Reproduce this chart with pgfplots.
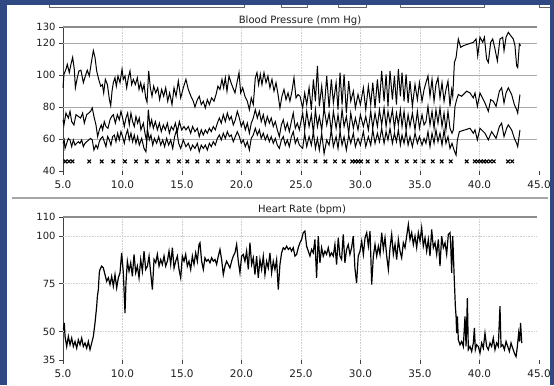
\documentclass[border=0pt]{standalone}
\usepackage{fontspec}
\setmainfont{DejaVu Sans}
\usepackage{pgfplots}
\pgfplotsset{compat=1.18}
\definecolor{bgblue}{RGB}{48,73,130}
\definecolor{gridgray}{RGB}{170,170,170}
\definecolor{faintgray}{RGB}{205,205,205}
\definecolor{txt}{RGB}{30,30,30}
\pgfplotsset{panel/.style={
  scale only axis, width=476bp, xmin=5, xmax=45, clip=false,
  axis x line*=bottom, axis y line*=left,
  x axis line style={draw=none},
  y axis line style={black!75, line width=0.8bp},
  tick align=outside, major tick length=4bp,
  tick style={black!75, line width=0.6bp},
  xtick={5,10,...,45},
  /pgf/number format/assume math mode=true,
  xticklabel style={font=\fontsize{10.5}{12}\selectfont, text=txt, yshift=-2bp,
    /pgf/number format/fixed, /pgf/number format/fixed zerofill, /pgf/number format/precision=1},
  yticklabel style={font=\fontsize{10}{12}\selectfont, text=txt},
}}
\begin{document}
\begin{tikzpicture}[x=1bp,y=1bp]
\useasboundingbox (0,0) rectangle (554,385);
\fill[bgblue] (0,0) rectangle (554,385);
\fill[white] (7,0) rectangle (550,380);
\begin{scope}[draw=black!60, line width=0.7bp]
\draw (49,380) -- (49,377.2) -- (244,377.2) -- (244,380);
\draw (281,380) -- (281,377.2) -- (307,377.2) -- (307,380);
\draw (338,380) -- (338,377.2) -- (366,377.2) -- (366,380);
\draw (400,380) -- (400,377.2) -- (484,377.2) -- (484,380);
\draw (539,380) -- (539,377.2) -- (550,377.2);
\end{scope}
\draw[black!35, line width=1.6bp] (12,187) -- (548,187);
\node[font=\fontsize{10.1}{11}\selectfont, text=txt] at (300,364) {Blood Pressure (mm Hg)};
\node[font=\fontsize{10.1}{11}\selectfont, text=txt] at (302,175) {Heart Rate (bpm)};

% ---------------- Blood pressure ----------------
\begin{axis}[panel, at={(63bp,214bp)}, anchor=south west, height=144bp,
  ymin=40, ymax=130, ytick={40,60,80,100,120,130}]
\foreach \g in {10,15,20,25,30,35,40}{\edef\tmp{\noexpand\draw[faintgray, densely dotted, line width=0.6bp] (axis cs:\g,40) -- (axis cs:\g,130);}\tmp}
\foreach \g in {60,80,100,120}{\edef\tmp{\noexpand\draw[gridgray, line width=0.8bp] (axis cs:5,\g) -- (axis cs:44.8,\g);}\tmp}
\draw[black!45, line width=1.3bp] (axis cs:5,130) -- (axis cs:44.8,130);
% systolic
\addplot[black, line width=1bp] coordinates {
(5.0,92) (5.08,100.4) (5.25,103.6) (5.36,106.7) (5.53,101.5) (5.67,106.7) (5.81,111) (5.95,103.6) (6.04,92) (6.2,98.3) (6.34,102.5) (6.51,103) (6.71,95.2) (6.88,99.4) (7.04,103) (7.21,99.4) (7.38,107.8) (7.55,115.2) (7.69,111) (7.83,102.5) (8.0,97.3) (8.17,93) (8.31,94) (8.42,88.8) (8.56,97.3) (8.73,94) (8.9,84.6) (9.01,80.8) (9.12,89.9) (9.23,95.2) (9.37,98.3) (9.48,93) (9.62,99.4) (9.79,95.2) (9.96,103.6) (10.07,97.3) (10.21,99.4) (10.35,92) (10.49,98.3) (10.63,102.5) (10.77,94) (10.91,97.3) (11.08,94) (11.25,98.3) (11.39,91) (11.53,95.2) (11.67,89.9) (11.81,94) (11.95,85.7) (12.06,83) (12.2,102.5) (12.34,92) (12.48,86.7) (12.62,93) (12.79,88.8) (12.96,92) (13.12,84.6) (13.29,91) (13.46,86.7) (13.63,92) (13.8,83.6) (13.96,88.8) (14.16,81.5) (14.33,92) (14.5,86.7) (14.69,96.2) (14.89,85.7) (15.11,92) (15.33,97.3) (15.53,91) (15.75,86.7) (15.95,83.6) (16.09,80) (16.29,84.6) (16.45,86.7) (16.62,81.5) (16.79,83.6) (16.96,79.4) (17.13,84.6) (17.3,81.5) (17.49,85.7) (17.69,83.6) (17.86,87.8) (18.02,93) (18.19,91) (18.36,97.3) (18.5,92) (18.64,98.3) (18.78,89.9) (18.95,99.4) (19.12,95.2) (19.28,92) (19.45,88.8) (19.62,95.2) (19.79,101.5) (19.93,88.8) (20.1,92) (20.29,86.7) (20.49,83.6) (20.66,78.3) (20.82,85.7) (20.99,81.5) (21.16,98.3) (21.3,101.5) (21.44,94) (21.58,100.4) (21.72,94) (21.89,101.5) (22.06,95.2) (22.22,99.4) (22.39,92) (22.56,97.3) (22.73,89.9) (22.9,95.2) (23.07,87.8) (23.23,79.4) (23.4,86.7) (23.57,91) (23.74,84.6) (23.91,88.8) (24.07,83.6) (24.24,89.9) (24.41,98.3) (24.58,85.7) (24.75,87.8)
(24.92,86.7) (25.14,79.4) (25.31,88.8) (25.48,81.5) (25.68,92) (25.87,78.3) (26.04,97.3) (26.21,83.6) (26.38,105.7) (26.54,80.4) (26.74,93.1) (26.94,77.3) (27.16,99.4) (27.36,79.4) (27.55,97.3) (27.72,82.5) (27.95,95.2) (28.11,78.3) (28.28,101.5) (28.45,81.5) (28.62,100.4) (28.81,76.2) (29.01,96.2) (29.18,83.6) (29.4,89.9) (29.57,79.4) (29.79,87.8) (29.99,81.5) (30.24,92) (30.44,78.3) (30.66,93.1) (30.86,81.5) (31.03,95.2) (31.22,79.4) (31.42,97.3) (31.59,82.5) (31.78,102.5) (31.98,83.6) (32.15,100.4) (32.31,80.4) (32.48,102.5) (32.68,84.6) (32.85,99.4) (33.02,81.5) (33.18,103.6) (33.35,86.7) (33.49,101.5) (33.66,83.6) (33.83,100.4) (34.0,82.5) (34.16,96.2) (34.36,80.4) (34.58,94.1) (34.78,84.6) (34.95,95.2) (35.17,83.6) (35.34,90.9)
(35.5,95.2) (35.67,99.4) (35.84,86.7) (36.01,97.3) (36.18,83.6) (36.34,94.1) (36.51,98.3) (36.68,85.7) (36.85,95.2) (37.02,83.6) (37.18,90.9) (37.35,96.2) (37.52,80.4) (37.66,90.9) (37.75,86.7) (37.89,107.8) (38.03,110.9) (38.22,122.5) (38.42,117.3) (38.64,118.3) (39.06,119.4) (39.48,120.4) (39.71,122.5) (39.85,112) (40.04,123.6) (40.27,120.4) (40.41,123.6) (40.6,109.9) (40.74,107.8) (40.94,120.4) (41.11,122.5) (41.3,116.2) (41.5,108.8) (41.72,122.5) (41.95,123.6) (42.06,115.2) (42.23,123.6) (42.42,126.7) (42.62,124.6) (42.84,122.5) (42.98,118.3) (43.12,105.7) (43.21,104.6) (43.35,119.4) (43.46,118.3)
};
% mean
\addplot[black, line width=1bp] coordinates {
(5.0,72.0) (5.08,68.8) (5.25,76.2) (5.45,73.1) (5.59,77.3) (5.73,70.9) (5.92,68.8) (6.09,75.2) (6.29,74.1) (6.48,73.1) (6.65,76.2) (6.79,69.9) (6.99,75.2) (7.16,76.2) (7.32,77.3) (7.46,79.4) (7.6,74.1) (7.77,68.8) (7.91,61.5) (8.05,65.7) (8.22,68.8) (8.33,65.7) (8.47,70.9) (8.61,67.8) (8.78,66.7) (8.95,72.0) (9.09,74.1) (9.23,75.2) (9.4,69.9) (9.57,75.2) (9.73,72.0) (9.87,77.3) (10.01,73.1) (10.15,67.8) (10.29,73.1) (10.43,76.2) (10.57,68.8) (10.71,76.2) (10.85,70.9) (10.99,67.8) (11.13,74.1) (11.27,69.9) (11.41,73.1) (11.55,65.7) (11.75,69.9) (11.89,63.6) (12.03,58.3) (12.17,78.3) (12.31,67.8) (12.45,72.0) (12.59,66.7) (12.76,70.9) (12.93,65.7) (13.1,69.9) (13.26,64.6) (13.43,68.8) (13.6,65.7) (13.77,69.9) (13.94,63.6) (14.1,67.8) (14.27,65.7) (14.44,69.9) (14.61,64.6) (14.78,70.9) (14.97,65.7) (15.17,67.8)
(15.33,65.7) (15.53,67.8) (15.73,63.6) (15.89,67.8) (16.09,64.6) (16.29,66.7) (16.45,61.5) (16.62,65.7) (16.79,62.5) (16.96,65.7) (17.13,63.6) (17.3,66.7) (17.46,64.6) (17.63,67.8) (17.8,65.7) (17.97,69.9) (18.14,73.1) (18.3,69.9) (18.47,75.2) (18.64,70.9) (18.81,76.2) (18.98,72.0) (19.14,74.1) (19.31,68.8) (19.48,72.0) (19.65,77.3) (19.82,73.1) (19.98,67.8) (20.15,70.9) (20.32,65.7) (20.49,69.9) (20.66,63.6) (20.82,69.9) (20.99,73.1) (21.16,78.3) (21.33,73.1) (21.5,77.3) (21.66,70.9) (21.83,75.2) (22.0,68.8) (22.17,74.1) (22.34,69.9) (22.5,73.1) (22.67,67.8) (22.84,70.9) (23.01,65.7) (23.18,61.5) (23.35,68.8) (23.51,72.0) (23.68,65.7) (23.85,69.9) (24.02,64.6) (24.19,70.9) (24.35,76.2) (24.52,66.7) (24.69,69.9) (24.86,65.7)
(25.14,76.2) (25.31,65.7) (25.48,77.3) (25.68,67.8) (25.87,75.2) (26.04,63.6) (26.21,78.3) (26.38,67.8) (26.54,74.1) (26.74,65.7) (26.94,79.4) (27.16,68.8) (27.36,76.2) (27.55,64.6) (27.72,77.3) (27.95,66.7) (28.11,75.2) (28.28,65.7) (28.45,78.3) (28.62,67.8) (28.81,74.1) (29.01,63.6) (29.18,76.2) (29.4,66.7) (29.57,73.1) (29.79,65.7) (29.99,75.2) (30.24,67.8) (30.44,74.1) (30.66,65.7) (30.86,77.3) (31.03,66.7) (31.22,76.2) (31.42,67.8) (31.59,78.3) (31.78,68.8) (31.98,79.4) (32.15,67.8) (32.31,77.3) (32.48,69.9) (32.68,78.3) (32.85,66.7) (33.02,76.2) (33.18,68.8) (33.35,78.3) (33.49,67.8) (33.66,77.3) (33.83,65.7) (34.0,75.2) (34.16,67.8) (34.36,76.2) (34.58,65.7) (34.78,77.3) (34.95,66.7) (35.17,75.2) (35.34,68.8)
(35.5,70.9) (35.67,80.4) (35.84,68.8) (36.01,77.3) (36.18,66.7) (36.34,78.3) (36.51,69.9) (36.68,79.4) (36.85,67.8) (37.02,76.2) (37.18,65.7) (37.35,77.3) (37.52,66.7) (37.69,63.6) (37.8,65.7) (37.94,80.4) (38.08,84.6) (38.22,87.8) (38.5,86.7) (38.92,89.9) (39.2,88.8) (39.48,85.7) (39.62,88.8) (39.82,80.4) (40.04,88.8) (40.46,82.5) (40.74,77.3) (40.94,84.6) (41.16,83.6) (41.39,80.4) (41.67,89.9) (41.86,92.0) (42.06,82.5) (42.23,88.8) (42.42,92.0) (42.7,87.8) (42.93,81.5) (43.12,78.3) (43.21,76.2) (43.4,87.8)
};
% diastolic
\addplot[black, line width=1bp] coordinates {
(5.0,57.3) (5.1,59.4) (5.17,54.1) (5.31,57.3) (5.45,60.4) (5.59,59.4) (5.73,55.2) (5.87,59.4) (6.01,56.2) (6.15,57.3) (6.29,58.3) (6.43,57.3) (6.57,59.4) (6.71,55.2) (6.85,57.3) (6.99,58.3) (7.16,59.4) (7.32,60.4) (7.46,59.4) (7.6,53.1) (7.77,56.2) (7.91,54.1) (8.05,58.3) (8.19,60.4) (8.33,61.5) (8.47,58.3) (8.61,55.2) (8.75,61.5) (8.89,59.4) (9.03,56.2) (9.17,61.5) (9.31,62.5) (9.45,58.3) (9.59,63.6) (9.73,59.4) (9.87,64.6) (10.01,61.5) (10.15,57.3) (10.29,62.5) (10.43,65.7) (10.57,59.4) (10.71,63.6) (10.85,58.3) (10.99,62.5) (11.13,57.3) (11.27,61.5) (11.41,56.2) (11.61,60.4) (11.81,54.1) (11.97,52.0) (12.11,65.7) (12.25,59.4) (12.39,62.5) (12.54,56.2) (12.68,60.4) (12.87,57.3) (13.04,61.5) (13.21,56.2) (13.38,59.4) (13.54,55.2) (13.71,60.4) (13.88,56.2) (14.05,59.4) (14.22,54.1) (14.38,61.5) (14.55,65.7) (14.72,57.3) (14.89,54.1) (15.11,59.4)
(15.33,55.2) (15.53,57.3) (15.73,53.1) (15.89,56.2) (16.09,54.1) (16.29,57.3) (16.45,52.0) (16.62,56.2) (16.79,54.1) (16.96,56.2) (17.13,53.1) (17.3,57.3) (17.46,55.2) (17.63,58.3) (17.8,56.2) (17.97,60.4) (18.14,62.5) (18.3,59.4) (18.47,63.6) (18.64,60.4) (18.81,64.6) (18.98,61.5) (19.14,62.5) (19.31,58.3) (19.48,61.5) (19.65,64.6) (19.82,61.5) (19.98,57.3) (20.15,59.4) (20.32,55.2) (20.49,58.3) (20.66,53.1) (20.82,60.4) (20.99,62.5) (21.16,66.7) (21.33,62.5) (21.5,65.7) (21.66,60.4) (21.83,63.6) (22.0,59.4) (22.17,62.5) (22.34,58.3) (22.5,61.5) (22.67,57.3) (22.84,60.4) (23.01,56.2) (23.18,54.1) (23.35,59.4) (23.51,61.5) (23.68,56.2) (23.85,59.4) (24.02,55.2) (24.19,61.5) (24.35,64.6) (24.52,57.3) (24.69,60.4) (24.86,56.2)
(25.14,54.1) (25.31,63.6) (25.48,55.2) (25.68,61.5) (25.87,56.2) (26.04,64.6) (26.21,54.1) (26.38,60.4) (26.54,53.1) (26.74,63.6) (26.94,50.9) (27.16,59.4) (27.36,56.2) (27.55,65.7) (27.72,55.2) (27.95,61.5) (28.11,54.1) (28.28,64.6) (28.45,56.2) (28.62,61.5) (28.81,53.1) (29.01,62.5) (29.18,57.3) (29.4,63.6) (29.57,55.2) (29.79,60.4) (29.99,56.2) (30.24,64.6) (30.44,55.2) (30.66,61.5) (30.86,56.2) (31.03,65.7) (31.22,57.3) (31.42,63.6) (31.59,58.3) (31.78,66.7) (31.98,57.3) (32.15,64.6) (32.31,59.4) (32.48,66.7) (32.68,57.3) (32.85,63.6) (33.02,58.3) (33.18,65.7) (33.35,56.2) (33.49,62.5) (33.66,57.3) (33.83,64.6) (34.0,56.2) (34.16,61.5) (34.36,55.2) (34.58,63.6) (34.78,57.3) (34.95,61.5) (35.17,56.2) (35.34,60.4)
(35.5,57.3) (35.67,64.6) (35.84,55.2) (36.01,63.6) (36.18,57.3) (36.34,65.7) (36.51,58.3) (36.68,63.6) (36.85,56.2) (37.02,65.7) (37.18,57.3) (37.35,61.5) (37.52,54.1) (37.69,57.3) (37.86,53.1) (38.03,49.9) (38.14,59.4) (38.31,64.6) (38.78,65.7) (39.2,66.7) (39.48,63.6) (39.62,65.7) (39.82,59.4) (40.04,66.7) (40.46,63.6) (40.74,59.4) (41.02,64.6) (41.39,60.4) (41.67,67.8) (41.86,69.9) (42.06,61.5) (42.28,66.7) (42.42,68.8) (42.7,65.7) (42.93,60.4) (43.12,57.3) (43.21,55.2) (43.4,65.7)
};
% measurement marks
\addplot[only marks, mark=x, mark size=2.5bp, mark options={black, line width=1.1bp}] coordinates {
(5.2,46) (5.5,46) (5.8,46) (7.2,46) (8.25,46) (9.23,46) (10.2,46) (11.13,46) (12.03,46) (12.93,46) (13.85,46) (14.75,46) (15.45,46) (16.29,46) (17.16,46) (18.05,46) (18.89,46) (19.73,46) (20.57,46) (21.41,46) (22.25,46) (23.09,46) (23.93,46) (24.77,46) (25.4,46) (26.22,46) (27.05,46) (27.86,46) (28.6,46) (29.3,46) (29.55,46) (29.8,46) (30.05,46) (30.6,46) (31.36,46) (32.2,46) (33.04,46) (33.88,46) (34.6,46) (35.3,46) (36.07,46) (36.82,46) (37.58,46) (38.92,46) (39.6,46) (39.85,46) (40.1,46) (40.35,46) (40.6,46) (40.9,46) (41.2,46) (42.4,46) (42.75,46)
};
\end{axis}

% ---------------- Heart rate ----------------
\begin{axis}[panel, at={(63bp,25bp)}, anchor=south west, height=143bp,
  ymin=35, ymax=110, ytick={35,50,75,100,110}]
\foreach \g in {10,15,20,25,30,35,40}{\edef\tmp{\noexpand\draw[faintgray, densely dotted, line width=0.6bp] (axis cs:\g,35) -- (axis cs:\g,110);}\tmp}
\foreach \g in {50,75,100}{\edef\tmp{\noexpand\draw[faintgray, densely dotted, line width=0.6bp] (axis cs:5,\g) -- (axis cs:44.8,\g);}\tmp}
\draw[black!45, line width=1.3bp] (axis cs:5,110) -- (axis cs:44.8,110);
\addplot[black, line width=1.2bp] coordinates {
(5.03,50.9) (5.11,54.4) (5.17,47.4) (5.31,42.1) (5.45,47.4) (5.59,43.0) (5.73,46.5) (5.87,42.1) (6.01,44.7) (6.15,41.2) (6.29,45.6) (6.43,43.0) (6.57,46.5) (6.71,42.1) (6.85,43.9) (6.99,41.2) (7.13,44.7) (7.27,40.4) (7.41,43.9) (7.55,47.4) (7.69,54.4) (7.83,63.2) (7.89,68.4) (7.97,71.9) (8.05,80.7) (8.11,82.5) (8.25,84.2) (8.39,83.3) (8.53,79.8) (8.67,76.3) (8.81,78.1) (8.95,74.6) (9.09,78.9) (9.23,73.7) (9.37,79.8) (9.51,72.8) (9.65,78.1) (9.79,80.7) (9.93,91.2) (10.07,80.7) (10.21,59.6) (10.29,75.4) (10.41,86.8) (10.55,81.6) (10.69,86.0) (10.83,78.9) (10.97,90.4) (11.11,80.7) (11.25,84.2) (11.39,78.1) (11.53,87.7) (11.67,81.6) (11.81,92.1) (11.95,82.5) (12.09,84.2) (12.23,89.5) (12.37,80.7) (12.51,71.9) (12.65,87.7) (12.79,86.0) (12.93,90.4) (13.07,84.2) (13.21,87.7) (13.35,85.1) (13.49,89.5) (13.63,84.2) (13.77,86.8) (13.91,92.1) (14.05,85.1) (14.19,93.9) (14.33,83.3) (14.47,86.8) (14.61,89.5) (14.75,82.5) (14.89,78.1) (15.03,89.5) (15.17,86.8) (15.31,90.4) (15.45,84.2) (15.59,86.8) (15.73,82.5) (15.87,89.5) (16.01,85.1) (16.15,91.2) (16.29,86.8) (16.43,95.6)
(16.51,96.5) (16.65,86.8) (16.79,82.5) (16.93,88.6) (17.07,86.8) (17.21,87.7) (17.35,86.0) (17.49,88.6) (17.63,86.8) (17.77,87.7) (17.91,85.1) (18.05,89.5) (18.19,93.0) (18.33,87.7) (18.47,79.8) (18.61,84.2) (18.75,86.8) (18.89,85.1) (19.03,83.3) (19.17,86.8) (19.31,89.5) (19.45,91.2) (19.59,95.6) (19.73,86.8) (19.87,80.7) (20.01,89.5) (20.15,90.4) (20.29,86.8) (20.43,92.1) (20.57,82.5) (20.71,96.5) (20.85,85.1) (20.99,88.6) (21.13,79.8) (21.27,89.5) (21.41,78.1) (21.55,87.7) (21.69,82.5) (21.83,89.5) (21.97,79.8) (22.11,86.8) (22.25,83.3) (22.39,91.2) (22.53,80.7) (22.67,86.8) (22.81,82.5) (22.95,87.7) (23.09,71.9) (23.23,85.1) (23.37,91.2) (23.51,93.9) (23.65,93.0) (23.79,94.7) (23.93,93.0) (24.07,93.9) (24.21,92.1) (24.35,93.9) (24.49,89.5) (24.63,90.4) (24.77,93.9) (24.91,96.5) (25.05,98.2) (25.19,101.8) (25.33,102.6) (25.47,94.7) (25.61,92.1) (25.75,89.5) (25.89,93.0) (26.03,91.2) (26.17,98.2) (26.31,78.1) (26.45,100) (26.59,86.0) (26.73,93.9) (26.87,89.5) (27.01,92.1) (27.15,90.4) (27.29,93.9) (27.43,89.5) (27.57,91.2) (27.71,89.5) (27.85,95.6) (27.99,85.1) (28.13,99.1) (28.27,89.5) (28.41,87.7) (28.55,100.9) (28.69,86.0) (28.83,93.0) (28.97,95.6) (29.11,90.4) (29.25,93.9) (29.39,100) (29.53,83.3) (29.67,75.4) (29.81,89.5) (29.96,92.1) (30.1,97.4) (30.24,90.4) (30.38,99.1) (30.52,101.8) (30.66,94.7) (30.8,102.6) (30.94,74.6) (31.08,89.5) (31.22,95.6) (31.36,89.5) (31.5,94.7)
(31.64,90.4) (31.78,101.8) (31.92,93.0) (32.06,99.1) (32.2,89.5) (32.34,82.5) (32.48,93.9) (32.62,100.9) (32.76,90.4) (32.9,95.6) (33.04,87.7) (33.18,98.2) (33.32,92.1) (33.46,88.6) (33.6,96.5) (33.74,93.9) (33.88,100) (34.02,106.1) (34.16,98.2) (34.3,101.8) (34.44,95.6) (34.58,100) (34.72,93.9) (34.86,101.8) (35.0,97.4) (35.14,104.4) (35.28,94.7) (35.42,99.1) (35.56,92.1) (35.7,98.2) (35.84,89.5) (35.98,103.5) (36.12,93.9) (36.26,96.5) (36.4,90.4) (36.54,98.2) (36.68,84.2) (36.82,100) (36.96,93.9) (37.1,96.5) (37.24,90.4) (37.38,100.9) (37.52,101.8) (37.58,95.6) (37.66,80.7) (37.75,100) (37.86,80.7) (37.97,63.2) (38.03,57.9) (38.08,49.1) (38.14,57.9) (38.22,45.6) (38.36,43.0) (38.5,44.7) (38.64,42.1) (38.78,57.9) (38.87,42.1) (38.98,67.5) (39.06,40.4) (39.2,42.1) (39.34,39.5) (39.48,43.9) (39.57,51.8) (39.65,40.4) (39.76,43.0) (39.9,42.1) (40.04,38.6) (40.18,43.9) (40.32,41.2) (40.46,49.1) (40.6,42.1) (40.74,40.4) (40.88,43.9) (41.02,42.1) (41.16,46.5) (41.3,40.4) (41.44,43.9) (41.58,42.1) (41.72,63.2) (41.81,42.1) (41.95,43.0) (42.09,40.4) (42.23,44.7) (42.37,42.1) (42.51,39.5) (42.65,43.9) (42.79,41.2) (42.93,38.6) (43.07,36.8) (43.18,42.1) (43.29,49.1) (43.37,44.7) (43.45,54.4) (43.55,43.9)
};
\end{axis}
\end{tikzpicture}
\end{document}
